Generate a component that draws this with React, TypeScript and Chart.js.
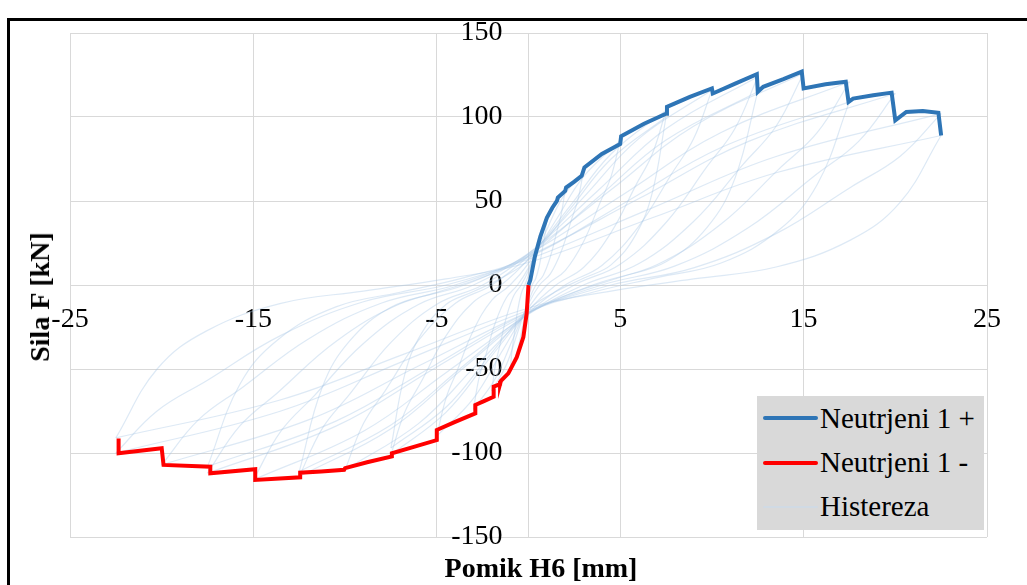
import React, { useEffect, useRef } from "react";
import { Chart, registerables } from "chart.js";

Chart.register(...registerables);

// Axis ticks
const xTickValues = [-25, -15, -5, 5, 15, 25];
const yTickValues = [-150, -100, -50, 0, 50, 100, 150];

// Envelope "Neutrjeni 1 +"
const posEnvX = [0, 0.1, 0.35, 0.65, 1.0, 1.3, 1.55, 1.6, 2.0, 2.05, 2.5, 2.9, 3.05, 4.0, 5.0, 5.05, 6.3, 7.5, 7.55, 8.8, 10.0, 10.05, 11.3, 12.45, 12.5, 12.8, 13.9, 14.9, 15.0, 16.2, 17.3, 17.45, 17.7, 18.8, 19.8, 20.0, 20.6, 21.5, 22.35, 22.5];
const posEnvY = [0, 3, 17, 29, 40, 46, 50, 52, 56, 58, 61.5, 65, 70, 78, 84, 88.5, 96, 102, 106, 112, 117, 114, 120, 125.5, 115, 118, 122.5, 127, 117, 119.5, 121, 109, 111, 113, 114.5, 98, 103, 103.5, 102.5, 89];

// Envelope "Neutrjeni 1 -"
const negEnvX = [0, -0.1, -0.28, -0.64, -1.1, -1.5, -1.55, -1.9, -1.9, -2.4, -2.9, -2.9, -4.0, -5.0, -5.0, -6.3, -7.45, -7.45, -8.8, -10.0, -10.05, -11.3, -12.45, -12.45, -14.9, -14.9, -17.35, -17.35, -19.9, -20.0, -22.35, -22.35];
const negEnvY = [0, -17, -31, -43, -52.6, -57, -59, -60.5, -66.5, -69, -71.4, -76.4, -81.5, -86.3, -92.3, -96.5, -100.2, -102, -105.5, -109, -110, -111, -111.7, -114.5, -116, -109.7, -112.1, -108.2, -107.1, -97.2, -100.2, -91.3];

// Hysteresis loops (each: +peak -> -peak -> +peak)
const loopX_1 = [1, 0.9, 0.78, 0.6, 0.4, 0.2, 0, -0.3, -0.6, -1, -0.9, -0.78, -0.6, -0.4, -0.2, 0, 0.3, 0.6, 1];
const loopY_1 = [40, 30, 22.8, 12, 4, 0, -7.8, -23.4, -39, -52, -39, -29.6, -15.6, -5.2, 0, 6, 18, 30, 40];
const loopX_2 = [2, 1.8, 1.56, 1.2, 0.8, 0.4, 0, -0.6, -1.2, -2, -1.8, -1.56, -1.2, -0.8, -0.4, 0, 0.6, 1.2, 2];
const loopY_2 = [57, 42.8, 32.5, 17.1, 5.7, 0, -9.5, -28.4, -47.3, -63, -47.3, -35.9, -18.9, -6.3, 0, 8.6, 25.7, 42.8, 57];
const loopX_3 = [3, 2.7, 2.34, 1.8, 1.2, 0.6, 0, -0.9, -1.8, -3, -2.7, -2.34, -1.8, -1.2, -0.6, 0, 0.9, 1.8, 3];
const loopY_3 = [68, 51, 38.8, 20.4, 6.8, 0, -11.1, -33.3, -55.5, -74, -55.5, -42.2, -22.2, -7.4, 0, 10.2, 30.6, 51, 68];
const loopX_5 = [5, 4.5, 3.9, 3, 2, 1, 0, -1.5, -3, -5, -4.5, -3.9, -3, -2, -1, 0, 1.5, 3, 5];
const loopY_5 = [86, 64.5, 49, 25.8, 8.6, 0, -13.5, -40.5, -67.5, -90, -67.5, -51.3, -27, -9, 0, 12.9, 38.7, 64.5, 86];
const loopX_7 = [7.5, 6.75, 5.85, 4.5, 3, 1.5, 0, -2.25, -4.5, -7.5, -6.75, -5.85, -4.5, -3, -1.5, 0, 2.25, 4.5, 7.5];
const loopY_7a = [104, 78, 59.3, 31.2, 10.4, 0, -15.2, -45.5, -75.8, -101, -75.8, -57.6, -30.3, -10.1, 0, 15.6, 46.8, 78, 104];
const loopY_7b = [100, 55, 30, 12, 4, -3.9, -14.6, -43.7, -72.8, -97, -53.4, -29.1, -11.6, -3.9, 4, 15, 45, 75, 100];
const loopX_10 = [10, 9, 7.8, 6, 4, 2, 0, -3, -6, -10, -9, -7.8, -6, -4, -2, 0, 3, 6, 10];
const loopY_10 = [116, 87, 66.1, 34.8, 11.6, 0, -16.5, -49.5, -82.5, -110, -82.5, -62.7, -33, -11, 0, 17.4, 52.2, 87, 116];
const loopX_12 = [12.5, 11.25, 9.75, 7.5, 5, 2.5, 0, -3.75, -7.5, -12.5, -11.25, -9.75, -7.5, -5, -2.5, 0, 3.75, 7.5, 12.5];
const loopY_12a = [124, 93, 70.7, 37.2, 12.4, 0, -17.1, -51.3, -85.5, -114, -85.5, -65, -34.2, -11.4, 0, 18.6, 55.8, 93, 124];
const loopY_12b = [115, 63.3, 34.5, 13.8, 4.6, -4.4, -16.7, -50, -83.3, -111, -61, -33.3, -13.3, -4.4, 4.6, 17.3, 51.8, 86.3, 115];
const loopX_15 = [15, 13.5, 11.7, 9, 6, 3, 0, -4.5, -9, -15, -13.5, -11.7, -9, -6, -3, 0, 4.5, 9, 15];
const loopY_15 = [126, 94.5, 71.8, 37.8, 12.6, 0, -17.4, -52.2, -87, -116, -87, -66.1, -34.8, -11.6, 0, 18.9, 56.7, 94.5, 126];
const loopX_17 = [17.5, 15.75, 13.65, 10.5, 7, 3.5, 0, -5.25, -10.5, -17.5, -15.75, -13.65, -10.5, -7, -3.5, 0, 5.25, 10.5, 17.5];
const loopY_17a = [121, 90.8, 69, 36.3, 12.1, 0, -16.8, -50.4, -84, -112, -84, -63.8, -33.6, -11.2, 0, 18.2, 54.5, 90.8, 121];
const loopY_17b = [109, 60, 32.7, 13.1, 4.4, -4.3, -16.2, -48.6, -81, -108, -59.4, -32.4, -13, -4.3, 4.4, 16.4, 49, 81.8, 109];
const loopX_20 = [20, 18, 15.6, 12, 8, 4, 0, -6, -12, -20, -18, -15.6, -12, -8, -4, 0, 6, 12, 20];
const loopY_20 = [114, 85.5, 65, 34.2, 11.4, 0, -16, -48.2, -80.3, -107, -80.3, -61, -32.1, -10.7, 0, 17.1, 51.3, 85.5, 114];
const loopX_22 = [22.5, 20.25, 17.55, 13.5, 9, 4.5, 0, -6.75, -13.5, -22.5, -20.25, -17.55, -13.5, -9, -4.5, 0, 6.75, 13.5, 22.5];
const loopY_22a = [102, 76.5, 58.1, 30.6, 10.2, 0, -15, -45, -75, -100, -75, -57, -30, -10, 0, 15.3, 45.9, 76.5, 102];
const loopY_22b = [89, 49, 26.7, 10.7, 3.6, -3.6, -13.7, -41, -68.3, -91, -50, -27.3, -10.9, -3.6, 3.6, 13.4, 40, 66.8, 89];

const hysteresisLoops: number[][][] = [
  [loopX_1, loopY_1],
  [loopX_2, loopY_2],
  [loopX_3, loopY_3],
  [loopX_5, loopY_5],
  [loopX_7, loopY_7a],
  [loopX_7, loopY_7b],
  [loopX_10, loopY_10],
  [loopX_12, loopY_12a],
  [loopX_12, loopY_12b],
  [loopX_15, loopY_15],
  [loopX_17, loopY_17a],
  [loopX_17, loopY_17b],
  [loopX_20, loopY_20],
  [loopX_22, loopY_22a],
  [loopX_22, loopY_22b],
];

const seriesNames = ["Neutrjeni 1 +", "Neutrjeni 1 -", "Histereza"];
const BLUE = "#2E75B6";
const RED = "#FF0000";
const LOOP = "rgba(165, 198, 230, 0.38)";
const FONT = '"Liberation Serif", "Times New Roman", serif';

function toPoints(xs: number[], ys: number[]) {
  return xs.map((x, i) => ({ x, y: ys[i] }));
}

export default function App() {
  const canvasRef = useRef<HTMLCanvasElement>(null);

  useEffect(() => {
    const canvas = canvasRef.current;
    if (!canvas) return;

    const loopSets: any[] = [];
    hysteresisLoops.forEach(([xs, ys]) => {
      const half = Math.floor(xs.length / 2);
      [
        [0, half + 1],
        [half, xs.length],
      ].forEach(([a, b]) => {
        loopSets.push({
          label: seriesNames[2],
          data: toPoints(xs.slice(a, b), ys.slice(a, b)),
          borderColor: LOOP,
          backgroundColor: LOOP,
          borderWidth: 1.2,
          showLine: true,
          pointRadius: 0,
          tension: 0.4,
          order: 5,
        });
      });
    });

    const chart = new Chart(canvas, {
      type: "scatter",
      data: {
        datasets: [
          {
            label: seriesNames[0],
            data: toPoints(posEnvX, posEnvY),
            borderColor: BLUE,
            backgroundColor: BLUE,
            borderWidth: 4,
            showLine: true,
            pointRadius: 0,
            tension: 0,
            order: 0,
          },
          {
            label: seriesNames[1],
            data: toPoints(negEnvX, negEnvY),
            borderColor: RED,
            backgroundColor: RED,
            borderWidth: 4,
            showLine: true,
            pointRadius: 0,
            tension: 0,
            order: 1,
          },
          ...loopSets,
        ],
      },
      options: {
        animation: false,
        responsive: false,
        maintainAspectRatio: false,
        layout: { padding: { left: 70, right: 40, top: 33, bottom: 48 } },
        plugins: {
          legend: { display: false },
          tooltip: { enabled: false },
          title: { display: false },
        },
        scales: {
          x: {
            type: "linear",
            position: "center",
            min: -25,
            max: 25,
            afterFit: (s: any) => {
              s.height = 0;
              s.paddingLeft = 0;
              s.paddingRight = 0;
              s.paddingTop = 0;
              s.paddingBottom = 0;
            },
            afterBuildTicks: (s: any) => {
              s.ticks = xTickValues.map((v) => ({ value: v }));
            },
            grid: { color: "#d9d9d9", lineWidth: 1, drawTicks: false },
            border: { display: true, color: "#d9d9d9", width: 1 },
            ticks: {
              padding: 18,
              color: "#000",
              autoSkip: false,
              maxRotation: 0,
              font: { family: FONT, size: 28 },
              callback: (v: any) => String(v),
            },
          },
          y: {
            type: "linear",
            position: "center",
            min: -150,
            max: 150,
            afterFit: (s: any) => {
              s.width = 0;
              s.paddingLeft = 0;
              s.paddingRight = 0;
              s.paddingTop = 0;
              s.paddingBottom = 0;
            },
            afterBuildTicks: (s: any) => {
              s.ticks = yTickValues.map((v) => ({ value: v }));
            },
            grid: { color: "#d9d9d9", lineWidth: 1, drawTicks: false },
            border: { display: true, color: "#d9d9d9", width: 1 },
            ticks: {
              padding: 26,
              color: "#000",
              autoSkip: false,
              font: { family: FONT, size: 28 },
              callback: (v: any) => String(v),
            },
          },
        },
      },
    });
    return () => chart.destroy();
  }, []);

  const legendText: React.CSSProperties = {
    position: "absolute",
    left: 820,
    font: `29px ${FONT}`,
    color: "#000",
    whiteSpace: "nowrap",
    lineHeight: "32px",
  };
  const legendLine = (top: number, color: string, h: number): React.CSSProperties => ({
    position: "absolute",
    left: 763,
    top,
    width: 55,
    height: h,
    background: color,
    borderRadius: 2,
  });

  return (
    <div
      style={{
        position: "fixed",
        left: 0,
        top: 0,
        width: 1027,
        height: 585,
        overflow: "hidden",
        background: "#fff",
      }}
    >
      <div
        style={{
          position: "absolute",
          left: 7,
          top: 18,
          width: 1100,
          height: 700,
          border: "3px solid #000",
          boxSizing: "border-box",
        }}
      />
      <canvas
        ref={canvasRef}
        width={1027}
        height={585}
        style={{ position: "absolute", left: 0, top: 0, width: 1027, height: 585, display: "block" }}
      />
      <div
        style={{
          position: "absolute",
          left: 40,
          top: 297,
          transform: "translate(-50%, -50%) rotate(-90deg)",
          font: `bold 28px ${FONT}`,
          whiteSpace: "nowrap",
          color: "#000",
        }}
      >
        Sila F [kN]
      </div>
      <div
        style={{
          position: "absolute",
          left: 541,
          top: 568,
          transform: "translate(-50%, -50%)",
          font: `bold 28px ${FONT}`,
          whiteSpace: "nowrap",
          color: "#000",
        }}
      >
        Pomik H6 [mm]
      </div>
      <div
        style={{
          position: "absolute",
          left: 757,
          top: 396,
          width: 227,
          height: 134,
          background: "#d9d9d9",
        }}
      />
      <div style={legendLine(416, BLUE, 4)} />
      <div style={{ ...legendText, top: 402 }}>{seriesNames[0]}</div>
      <div style={legendLine(461, RED, 4)} />
      <div style={{ ...legendText, top: 446 }}>{seriesNames[1]}</div>
      <div style={legendLine(506, "rgba(200, 220, 240, 0.5)", 2)} />
      <div style={{ ...legendText, top: 490 }}>{seriesNames[2]}</div>
    </div>
  );
}
